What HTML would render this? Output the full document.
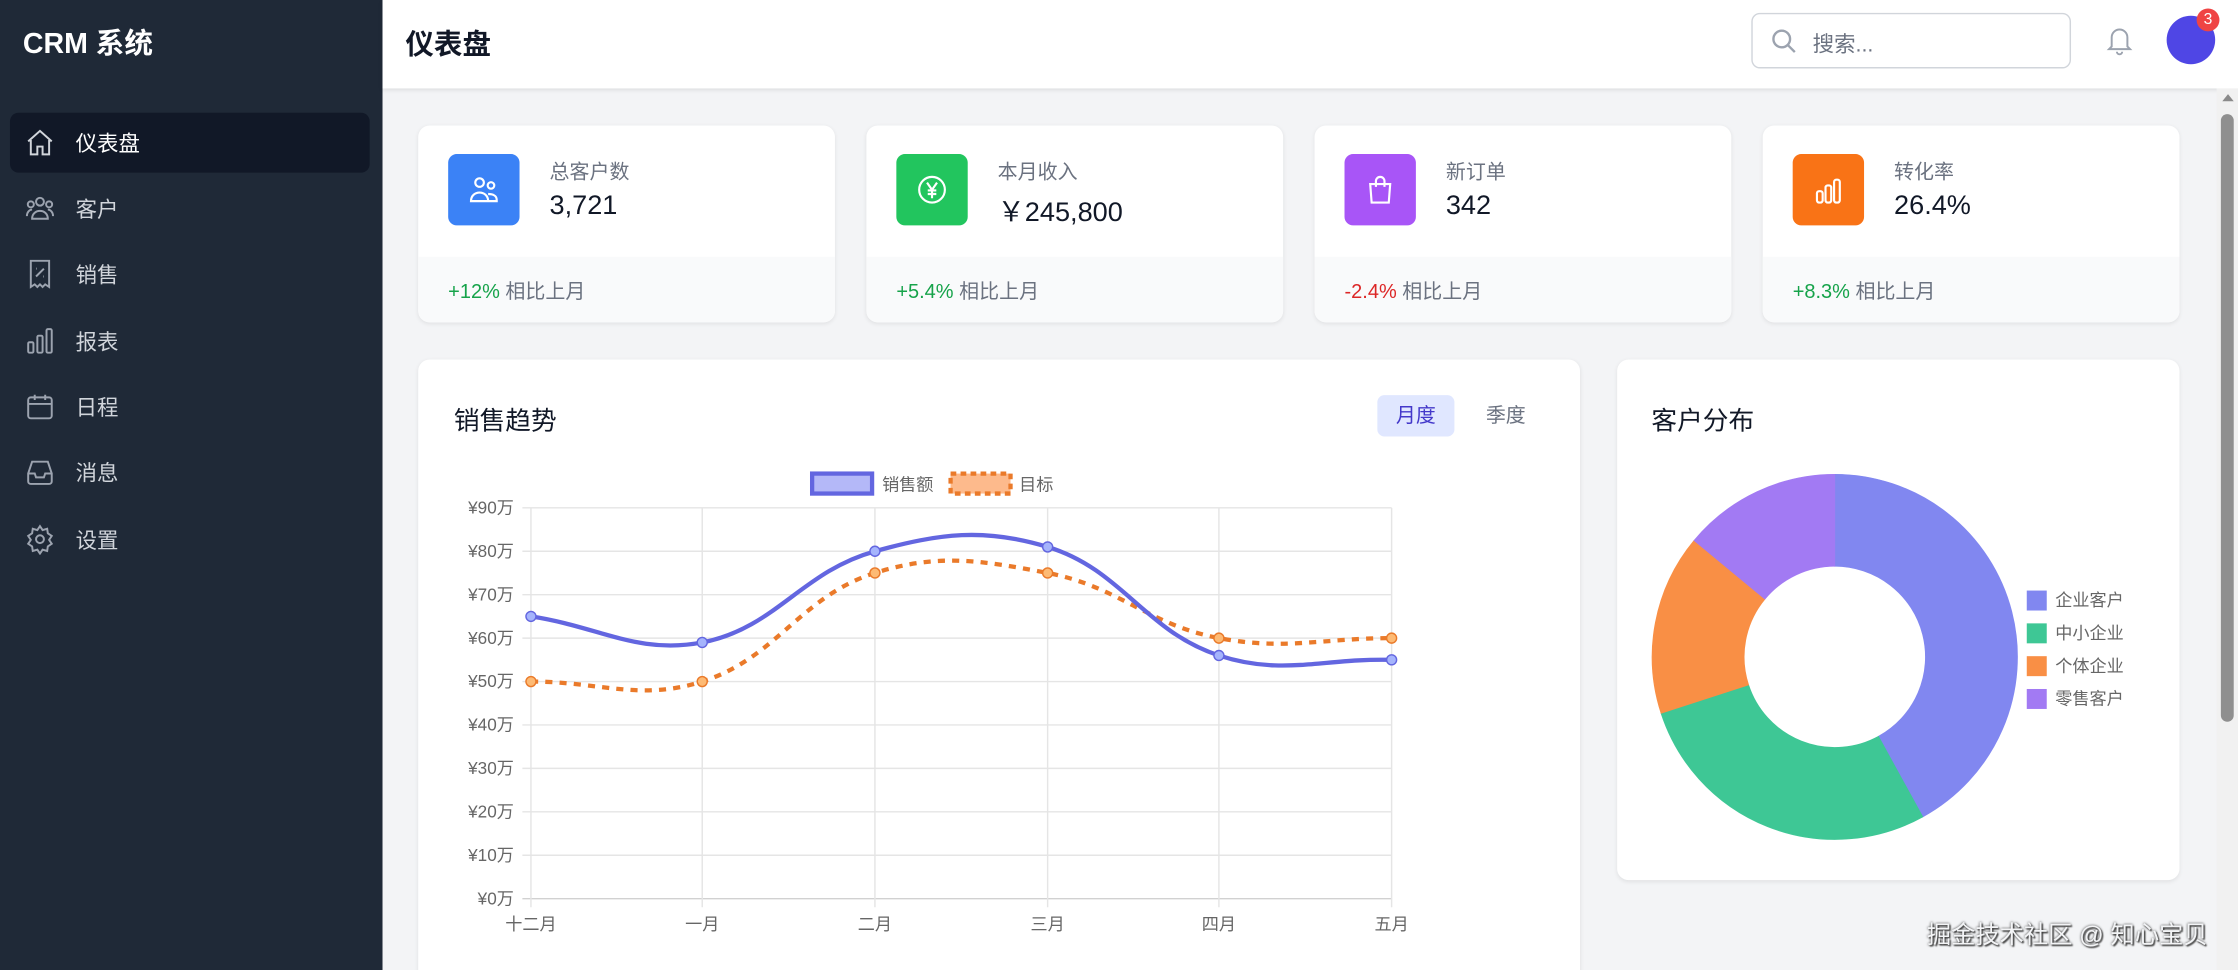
<!DOCTYPE html>
<html><head><meta charset="utf-8"><style>
*{margin:0;padding:0;box-sizing:border-box}
html,body{width:2238px;height:970px;overflow:hidden;background:#f3f4f6}
#s{position:absolute;left:0;top:0;width:1568px;height:680px;transform:scale(1.42730,1.42647);transform-origin:0 0;font-family:"Liberation Sans","Noto Sans CJK SC",sans-serif;background:#f3f4f6;overflow:hidden}
.a{position:absolute}
.side{left:0;top:0;width:268px;height:680px;background:#1f2937}
.nav{position:absolute;left:7px;width:252px;height:42px;color:#d1d5db;font-size:15px}
.nav svg{position:absolute;left:10px;top:10px}
.nav span{position:absolute;left:46px;top:11px}
.card{background:#fff;border-radius:8px;box-shadow:0 1px 3px rgba(0,0,0,.08);overflow:hidden}
.st .ft{position:absolute;left:0;right:0;top:92px;bottom:0;background:#f9fafb}
.st .ic{position:absolute;left:21px;top:20px;width:50px;height:50px;border-radius:6px}
.st .ic svg{position:absolute;left:13px;top:13px}
.st .lb{position:absolute;left:92px;top:22px;font-size:14px;color:#6b7280}
.st .vl{position:absolute;left:92px;top:46px;font-size:19px;color:#111827}
.st .fx{position:absolute;left:21px;top:106px;font-size:14px;color:#6b7280}
.g{color:#16a34a}.r{color:#dc2626}
</style></head><body><div id="s">
<div class="a side">
<div class="a" style="left:16px;top:14px;color:#fff;font-size:20px;font-weight:bold">CRM 系统</div>
<div class="nav" style="top:79px;background:#111827;border-radius:6px;color:#fff"><svg width="22" height="22" viewBox="0 0 24 24" fill="none" stroke="#d1d5db" stroke-width="1.5"><path d="M3 11l9-8 9 8M5 10v11h5v-6h4v6h5V10"/></svg><span>仪表盘</span></div>
<div class="nav" style="top:125px"><svg width="22" height="22" viewBox="0 0 24 24" fill="none" stroke="#9ca3af" stroke-width="1.5"><circle cx="12" cy="7" r="3"/><circle cx="5" cy="9" r="2.3"/><circle cx="19" cy="9" r="2.3"/><path d="M6 20c0-4 3-6 6-6s6 2 6 6zM2 18c0-3 2-5 4-5M22 18c0-3-2-5-4-5"/></svg><span>客户</span></div>
<div class="nav" style="top:171px"><svg width="22" height="22" viewBox="0 0 24 24" fill="none" stroke="#9ca3af" stroke-width="1.5"><path d="M5 2h14v20l-3-2-2 2-2-2-2 2-2-2-3 2zM9 14l6-6M9 8h.5M14.5 14h.5"/></svg><span>销售</span></div>
<div class="nav" style="top:218px"><svg width="22" height="22" viewBox="0 0 24 24" fill="none" stroke="#9ca3af" stroke-width="1.5"><rect x="3" y="13" width="4" height="8" rx="1"/><rect x="10" y="8" width="4" height="13" rx="1"/><rect x="17" y="3" width="4" height="18" rx="1"/></svg><span>报表</span></div>
<div class="nav" style="top:264px"><svg width="22" height="22" viewBox="0 0 24 24" fill="none" stroke="#9ca3af" stroke-width="1.5"><rect x="3" y="5" width="18" height="16" rx="2"/><path d="M3 10h18M8 3v4M16 3v4"/></svg><span>日程</span></div>
<div class="nav" style="top:310px"><svg width="22" height="22" viewBox="0 0 24 24" fill="none" stroke="#9ca3af" stroke-width="1.5"><path d="M3 13l3-9h12l3 9v6a2 2 0 01-2 2H5a2 2 0 01-2-2zM3 13h5l1 3h6l1-3h5"/></svg><span>消息</span></div>
<div class="nav" style="top:357px"><svg width="22" height="22" viewBox="0 0 24 24" fill="none" stroke="#9ca3af" stroke-width="1.5"><circle cx="12" cy="12" r="3"/><path d="M12 2l2 3 3.5-1 .5 3.5 3 2-2 3 2 3-3 2-.5 3.5-3.5-1-2 3-2-3-3.5 1-.5-3.5-3-2 2-3-2-3 3-2L6.5 4 10 5z"/></svg><span>设置</span></div>
</div>
<div class="a" style="left:268px;top:0;width:1300px;height:62px;background:#fff;box-shadow:0 1px 3px rgba(0,0,0,.1)">
<div class="a" style="left:16px;top:15px;font-size:20px;font-weight:bold;color:#111827">仪表盘</div>
<div class="a" style="left:959px;top:9px;width:224px;height:39px;border:1px solid #d1d5db;border-radius:6px"><svg class="a" style="left:12px;top:9px" width="20" height="20" viewBox="0 0 24 24" fill="none" stroke="#9ca3af" stroke-width="2"><circle cx="10" cy="10" r="7"/><path d="M15 15l6 6"/></svg><span class="a" style="left:42px;top:10px;font-size:15px;color:#6b7280">搜索...</span></div>
<svg class="a" style="left:1206px;top:16px" width="22" height="24" viewBox="0 0 24 24" fill="none" stroke="#9ca3af" stroke-width="1.5"><path d="M6 17V10a6 6 0 0112 0v7l2 2H4zM10 21a2 2 0 004 0"/></svg>
<div class="a" style="left:1250px;top:11px;width:34px;height:34px;border-radius:50%;background:#4f46e5"></div>
<div class="a" style="left:1271px;top:6px;width:16px;height:16px;border-radius:50%;background:#ef4444;color:#fff;font-size:11px;text-align:center;line-height:16px">3</div>
</div>
<div class="a" style="left:1553px;top:62px;width:15px;height:618px;background:#f1f1f1"></div>
<div class="a" style="left:1557px;top:66px;width:0;height:0;border-left:4px solid transparent;border-right:4px solid transparent;border-bottom:5px solid #8a8a8a"></div>
<div class="a" style="left:1556px;top:80px;width:9px;height:426px;border-radius:5px;background:#8f8f8f"></div>

<div class="a card st" style="left:293px;top:88px;width:292px;height:138px"><div class="ft"></div><div class="ic" style="background:#3b82f6"><svg width="24" height="24" viewBox="0 0 24 24" fill="none" stroke="#fff" stroke-width="1.5"><circle cx="9" cy="7" r="3"/><circle cx="17" cy="9" r="2.3"/><path d="M3 20c0-4 3-6 6-6s6 2 6 6zM15 15c3 0 6 1 6 4v1h-6"/></svg></div><div class="lb">总客户数</div><div class="vl">3,721</div><div class="fx"><span class="g">+12%</span> 相比上月</div></div>
<div class="a card st" style="left:607px;top:88px;width:292px;height:138px"><div class="ft"></div><div class="ic" style="background:#22c55e"><svg width="24" height="24" viewBox="0 0 24 24" fill="none" stroke="#fff" stroke-width="1.5"><circle cx="12" cy="12" r="9"/><path d="M8.5 7l3.5 5 3.5-5M12 12v6M9 12.5h6M9 15h6"/></svg></div><div class="lb">本月收入</div><div class="vl">￥245,800</div><div class="fx"><span class="g">+5.4%</span> 相比上月</div></div>
<div class="a card st" style="left:921px;top:88px;width:292px;height:138px"><div class="ft"></div><div class="ic" style="background:#a855f7"><svg width="24" height="24" viewBox="0 0 24 24" fill="none" stroke="#fff" stroke-width="1.5"><path d="M5 8h14l-1 13H6zM9 10V6a3 3 0 016 0v4"/></svg></div><div class="lb">新订单</div><div class="vl">342</div><div class="fx"><span class="r">-2.4%</span> 相比上月</div></div>
<div class="a card st" style="left:1235px;top:88px;width:292px;height:138px"><div class="ft"></div><div class="ic" style="background:#f97316"><svg width="24" height="24" viewBox="0 0 24 24" fill="none" stroke="#fff" stroke-width="1.5"><rect x="4" y="13" width="4" height="8" rx="1.5"/><rect x="10" y="9" width="4" height="12" rx="1.5"/><rect x="16" y="5" width="4" height="16" rx="1.5"/></svg></div><div class="lb">转化率</div><div class="vl">26.4%</div><div class="fx"><span class="g">+8.3%</span> 相比上月</div></div>

<div class="a card" style="left:293px;top:252px;width:814px;height:440px">
<div class="a" style="left:25px;top:29px;font-size:18px;color:#111827">销售趋势</div>
<div class="a" style="left:672px;top:25px;width:54px;height:29px;border-radius:5px;background:#e0e7ff;color:#4338ca;font-size:14px;text-align:center;line-height:29px">月度</div>
<div class="a" style="left:737px;top:25px;width:50px;height:29px;color:#6b7280;font-size:14px;text-align:center;line-height:29px">季度</div>
</div>
<svg class="a" style="left:0;top:0" width="1568" height="680" id="ch" font-family="Liberation Sans, Noto Sans CJK SC, sans-serif"></svg>

<div class="a card" style="left:1133px;top:252px;width:394px;height:365px">
<div class="a" style="left:24px;top:29px;font-size:18px;color:#111827">客户分布</div>
</div>
<svg class="a" style="left:0;top:0" width="1568" height="680" id="pie" font-family="Liberation Sans, Noto Sans CJK SC, sans-serif"></svg>
<div class="a" style="left:1350px;top:641px;font-size:17px;color:#f3f4f6;text-shadow:0 0 2px #333,1px 1px 1px #444">掘金技术社区 @ 知心宝贝</div>
</div>
<script>
var s='',L=372,R=975,T=356,B=630;
var xs=[372,492,613,734,854,975],ms=['十二月','一月','二月','三月','四月','五月'];
function y(v){return B-v*(B-T)/90}
for(var i=0;i<=9;i++){var yy=y(i*10);s+='<line x1="'+(L-6)+'" x2="'+R+'" y1="'+yy+'" y2="'+yy+'" stroke="'+(i==0?'#d1d1d1':'#e5e5e5')+'"/>';s+='<text x="360" y="'+(yy+4)+'" text-anchor="end" font-size="12" fill="#666">¥'+(i*10)+'万</text>';}
for(i=0;i<6;i++){s+='<line x1="'+xs[i]+'" x2="'+xs[i]+'" y1="'+T+'" y2="'+(B+6)+'" stroke="#e5e5e5"/>';s+='<text x="'+xs[i]+'" y="652" text-anchor="middle" font-size="12" fill="#666">'+ms[i]+'</text>';}
function path(d){var p=d.map(function(v,i){return[xs[i],y(v)]});var str='M'+p[0][0]+','+p[0][1];var cps=[];
for(var i=0;i<p.length;i++){var pr=p[i-1]||p[i],c=p[i],nx=p[i+1]||p[i];var d01=Math.hypot(c[0]-pr[0],c[1]-pr[1]),d12=Math.hypot(nx[0]-c[0],nx[1]-c[1]);var t=d01+d12||1;var fa=.4*d01/t,fb=.4*d12/t;cps.push([[c[0]-fa*(nx[0]-pr[0]),c[1]-fa*(nx[1]-pr[1])],[c[0]+fb*(nx[0]-pr[0]),c[1]+fb*(nx[1]-pr[1])]]);}
for(i=1;i<p.length;i++){str+=' C'+cps[i-1][1].join(',')+' '+cps[i][0].join(',')+' '+p[i].join(',');}return [str,p];}
var a=path([65,59,80,81,56,55]),b=path([50,50,75,75,60,60]);
s+='<path d="'+b[0]+'" fill="none" stroke="#ea7a2a" stroke-width="3" stroke-dasharray="5,5"/>';
s+='<path d="'+a[0]+'" fill="none" stroke="#6366e0" stroke-width="3"/>';
b[1].forEach(function(q){s+='<circle cx="'+q[0]+'" cy="'+q[1]+'" r="3.5" fill="#fdba74" stroke="#ea7a2a"/>'});
a[1].forEach(function(q){s+='<circle cx="'+q[0]+'" cy="'+q[1]+'" r="3.5" fill="#a5b4fc" stroke="#6366e0"/>'});
s+='<rect x="569" y="332" width="42" height="14" fill="#b4b8f8" stroke="#6366e0" stroke-width="3"/><text x="618" y="344" font-size="12" fill="#666">销售额</text>';
s+='<rect x="666" y="332" width="42" height="14" fill="#fdba8c" stroke="#ea7a2a" stroke-width="3" stroke-dasharray="4,3"/><text x="714" y="344" font-size="12" fill="#666">目标</text>';
document.getElementById('ch').innerHTML=s;
var cx=1285.5,cy=460.5,ro=128,ri=63.5,vals=[42,28,16,14],cols=['#8187f0','#3ec795','#f98f45','#a27af3'],nm=['企业客户','中小企业','个体企业','零售客户'];
var p='',a0=-Math.PI/2;
vals.forEach(function(v,i){var a1=a0+v/100*2*Math.PI,lg=v>50?1:0;
function P(r,a){return (cx+r*Math.cos(a)).toFixed(2)+','+(cy+r*Math.sin(a)).toFixed(2)}
p+='<path d="M'+P(ro,a0)+' A'+ro+','+ro+' 0 '+lg+' 1 '+P(ro,a1)+' L'+P(ri,a1)+' A'+ri+','+ri+' 0 '+lg+' 0 '+P(ri,a0)+'Z" fill="'+cols[i]+'" stroke="'+cols[i]+'" stroke-width="0.5"/>';
p+='<rect x="1420" y="'+(414+i*23)+'" width="14" height="14" fill="'+cols[i]+'"/><text x="1440" y="'+(425+i*23)+'" font-size="12" fill="#666">'+nm[i]+'</text>';a0=a1;});
document.getElementById('pie').innerHTML=p;
</script>
</body></html>
